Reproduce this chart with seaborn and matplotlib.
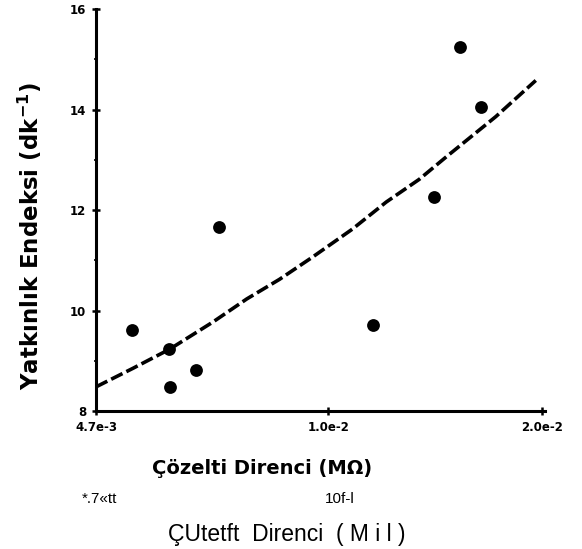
import numpy as np
import pandas as pd
import seaborn as sns
import matplotlib.pyplot as plt
from matplotlib.ticker import FixedLocator, NullLocator

sns.set_style('ticks')
plt.rcParams['font.family'] = ['DejaVu Sans']
plt.rcParams.update({'text.color': 'black', 'axes.labelcolor': 'black',
                     'xtick.color': 'black', 'ytick.color': 'black'})

# measured points (resistance in M-ohm, susceptibility index in 1/min)
direnc = [5.28e-3, 5.95e-3, 5.97e-3, 6.50e-3, 7.00e-3, 11.57e-3, 14.10e-3, 15.34e-3, 16.41e-3]
endeks = [9.61, 9.23, 8.48, 8.82, 11.66, 9.71, 12.25, 15.24, 14.06]

# fitted curve
egri_x = [4.70e-3, 5.30e-3, 5.97e-3, 6.87e-3, 7.67e-3, 8.53e-3, 9.49e-3, 10.81e-3,
          12.07e-3, 13.43e-3, 14.70e-3, 17.23e-3, 19.62e-3]
egri_y = [8.48, 8.85, 9.23, 9.77, 10.23, 10.62, 11.06, 11.62, 12.16, 12.61, 13.07, 13.86, 14.58]

x_ticks = [4.7e-3, 1.0e-2, 2.0e-2]
x_tick_labels = ['4.7e-3', '1.0e-2', '2.0e-2']
y_ticks = [8, 10, 12, 14, 16]

df = pd.DataFrame({'direnc': direnc, 'endeks': endeks})
fit = pd.DataFrame({'x': egri_x, 'y': egri_y})

fig = plt.figure(figsize=(5.82, 5.49), dpi=100)
ax = fig.add_axes([0.165, 0.2514, 0.771, 0.732])

sns.lineplot(data=fit, x='x', y='y', ax=ax, color='black', lw=2.6,
             linestyle=(0, (3.5, 1.2)), sort=False)
sns.scatterplot(data=df, x='direnc', y='endeks', ax=ax, color='black',
                s=85, edgecolor='black', linewidth=0)

ax.set_xscale('log')
ax.set_xlim(4.7e-3, 2.02e-2)
ax.set_ylim(8, 16)
ax.xaxis.set_major_locator(FixedLocator(x_ticks))
ax.xaxis.set_minor_locator(NullLocator())
ax.set_xticklabels(x_tick_labels)
ax.set_yticks(y_ticks)
ax.yaxis.set_minor_locator(FixedLocator([9, 11, 13, 15]))

for s in ['top', 'right']:
    ax.spines[s].set_visible(False)
for s in ['left', 'bottom']:
    ax.spines[s].set_linewidth(2.2)
    ax.spines[s].set_color('black')

ax.tick_params(axis='both', which='major', length=6, width=1.8, direction='inout',
               labelsize=8.5, pad=4, colors='black')
ax.tick_params(axis='y', which='minor', length=3, width=1.2, direction='inout')
for lab in ax.get_xticklabels() + ax.get_yticklabels():
    lab.set_fontweight('bold')

ax.set_xlabel('Çözelti Direnci (MΩ)', fontsize=14, fontweight='bold', color='black')
ax.set_ylabel('Yatkınlık Endeksi (dk$^{\\mathbf{-1}}$)', fontsize=16.5, fontweight='bold',
              color='black')
ax.xaxis.set_label_coords(0.37, -0.12)
ax.yaxis.set_label_coords(-0.115, 0.435)

# OCR text layer of the scan
fig.text(82 / 582, 1 - 503 / 549, '*.7«tt', fontsize=11, family='Liberation Sans')
fig.text(340 / 582, 1 - 503 / 549, '10f-l', fontsize=11, family='Liberation Sans', ha='center')
fig.text(287 / 582, 1 - 541 / 549, 'ÇUtetft  Direnci  ( M i l )', fontsize=16.5,
         family='Liberation Sans', ha='center')

fig.savefig('out.png', dpi=100)
